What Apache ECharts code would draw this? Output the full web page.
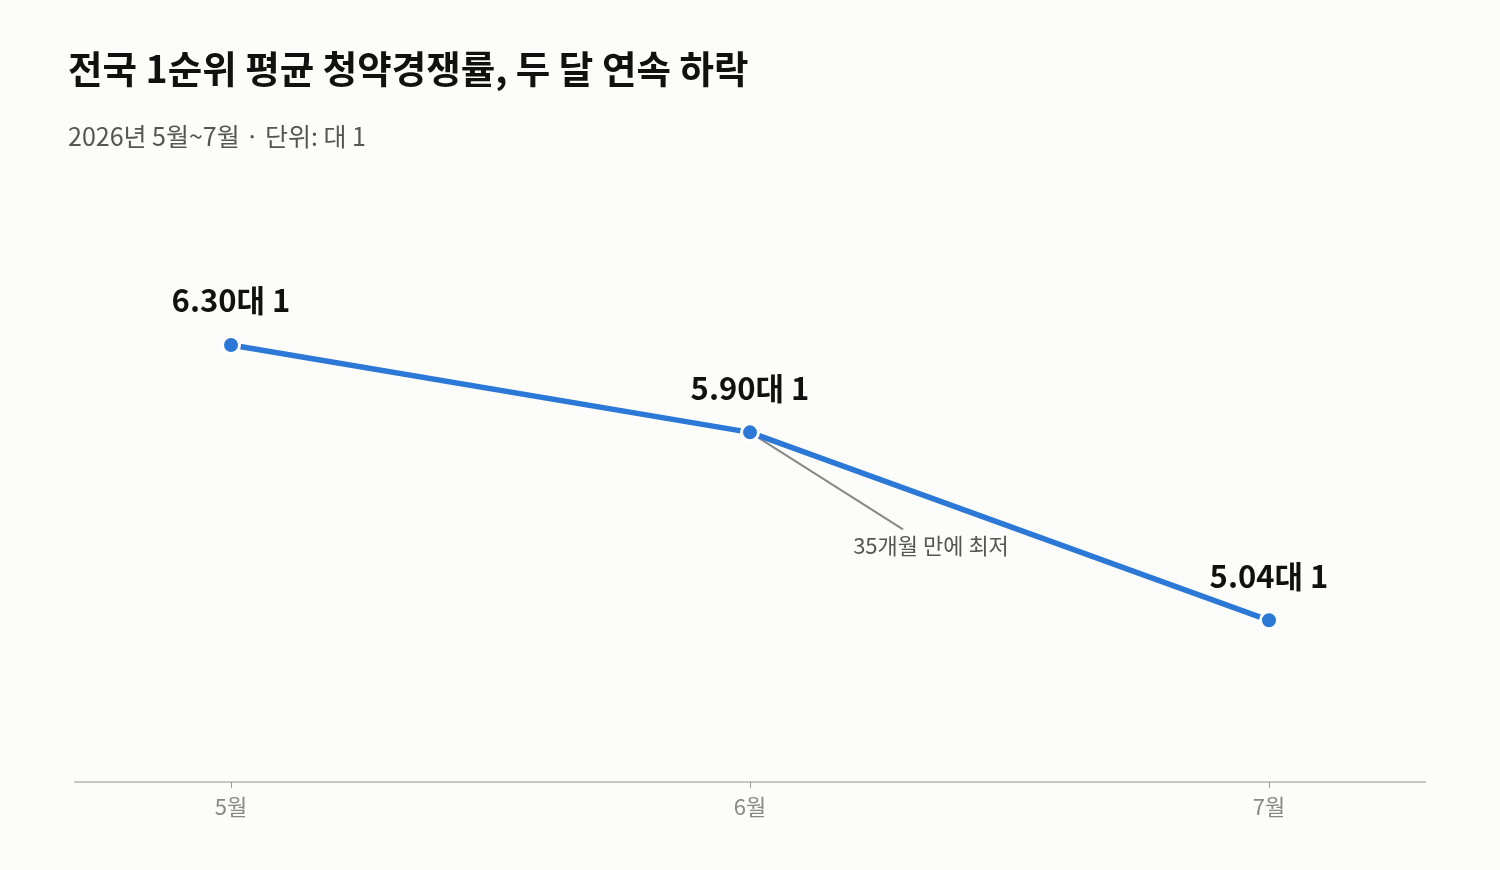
<!DOCTYPE html>
<html>
<head>
<meta charset="utf-8">
<script src="https://cdn.jsdelivr.net/npm/echarts@6/dist/echarts.min.js"></script>
<style>
html,body{margin:0;padding:0;background:#fcfcfa;}
#c{width:1500px;height:870px;}
</style>
</head>
<body>
<div id="c"></div>
<script>
var titleText = '전국 1순위 평균 청약경쟁률, 두 달 연속 하락';
var subtitleText = '2026년 5월~7월 · 단위: 대 1';
var categories = ['5월', '6월', '7월'];
var values = [6.30, 5.90, 5.04];
var noteIndex = 1;
var noteText = '35개월 만에 최저';

var FONT = '"Noto Sans CJK KR", "Noto Sans", sans-serif';
var chart = echarts.init(document.getElementById('c'));
var option = {
  backgroundColor: '#fcfcfa',
  animation: false,
  title: [
    {text: titleText, left: 63, top: 45, textStyle: {fontFamily: FONT, fontSize: 37.5, fontWeight: 'bold', color: '#111'}},
    {text: subtitleText, left: 63, top: 119, textStyle: {fontFamily: FONT, fontSize: 25, fontWeight: 'normal', color: '#555'}}
  ],
  grid: [
    {left: 231, right: 231, top: 192, bottom: 88},
    {left: 75, right: 75, top: 192, bottom: 88}
  ],
  xAxis: [
    {
      type: 'category', gridIndex: 0, data: categories, boundaryGap: false,
      axisLine: {show: false},
      axisTick: {show: true, length: 6, lineStyle: {color: '#999', width: 1}},
      axisLabel: {fontFamily: FONT, fontSize: 22, color: '#888', margin: 14}
    },
    {
      type: 'value', gridIndex: 1, min: 0, max: 1,
      axisLine: {show: true, lineStyle: {color: '#c8c8c0', width: 2}},
      axisTick: {show: false}, axisLabel: {show: false}, splitLine: {show: false}
    }
  ],
  yAxis: [
    {type: 'value', gridIndex: 0, min: 4.3, max: 7.0, show: false, splitLine: {show: false}},
    {type: 'value', gridIndex: 1, min: 0, max: 1, show: false, splitLine: {show: false}}
  ],
  series: [{
    type: 'line', xAxisIndex: 0, yAxisIndex: 0, data: values,
    lineStyle: {color: '#2b78d6', width: 5.5},
    itemStyle: {color: '#2b78d6', borderColor: '#ffffff', borderWidth: 3},
    symbol: 'circle', symbolSize: 17, showAllSymbol: true,
    label: {
      show: true, position: 'top', distance: 19,
      formatter: function(p){ return p.value.toFixed(2) + '대 1'; },
      fontFamily: FONT, fontSize: 31, fontWeight: 'bold', color: '#111'
    },
    z: 3
  }]
};
chart.setOption(option);

var pt = chart.convertToPixel({xAxisIndex: 0, yAxisIndex: 0}, [noteIndex, values[noteIndex]]);
chart.setOption({
  graphic: [
    {type: 'line', shape: {x1: pt[0], y1: pt[1], x2: pt[0] + 153, y2: pt[1] + 97}, style: {stroke: '#888', lineWidth: 2}, z: 2},
    {type: 'text', x: pt[0] + 181, y: pt[1] + 113, style: {text: noteText, fontFamily: FONT, fontSize: 22, fill: '#555', align: 'center', verticalAlign: 'middle'}, z: 2}
  ]
});
</script>
</body>
</html>
